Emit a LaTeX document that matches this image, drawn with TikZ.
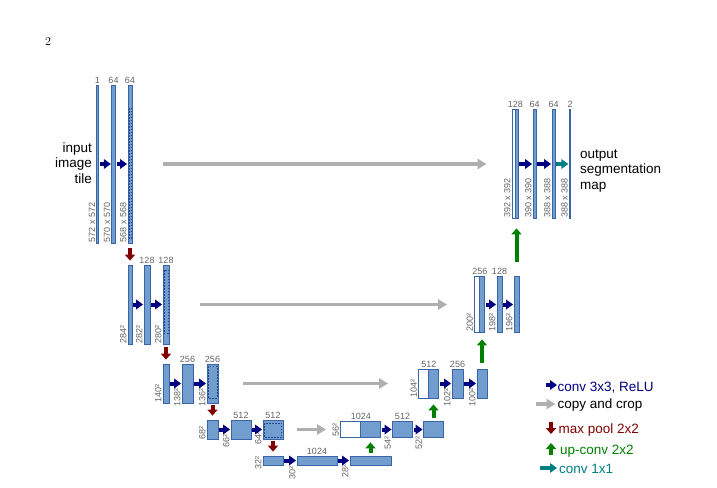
\documentclass[tikz,border=0pt]{standalone}
\usepackage{fontspec}
\setsansfont{Liberation Sans}
\usetikzlibrary{arrows.meta}

\definecolor{barfill}{RGB}{114,158,207}
\definecolor{barline}{RGB}{58,100,168}
\definecolor{cropcol}{RGB}{40,70,140}
\definecolor{dimcol}{RGB}{100,100,100}
\definecolor{convcol}{RGB}{0,0,128}
\definecolor{copycol}{RGB}{175,175,175}
\definecolor{poolcol}{RGB}{128,0,0}
\definecolor{upcol}{RGB}{0,128,0}
\definecolor{finalcol}{RGB}{0,128,128}

\begin{document}
\begin{tikzpicture}[x = 1pt, y = -1pt,
	bar/.style 2 args = {draw = barline, fill = barfill, line width = 0.8pt, inner sep = 0pt, minimum width = #1pt, minimum height = #2pt},
	blank/.style = {fill = white},
	cropline/.style = {draw = cropcol, line width = 0.6pt, dash pattern = on 1.5pt off 1.5pt},
	chan/.style = {anchor = south, inner sep = 1pt, text = dimcol, font = \sffamily\fontsize{9}{10}\selectfont},
	dim/.style = {rotate = 90, anchor = south west, inner sep = 1pt, text = dimcol, font = \sffamily\fontsize{9}{10}\selectfont},
	big/.style = {inner sep = 0pt, font = \sffamily\fontsize{13.5}{15.5}\selectfont},
	legend/.style = {big, anchor = base west},
	convarrow/.style = {draw = convcol, line width = 4pt, -{Triangle[length = 7pt, width = 9.5pt]}, shorten < = 1pt, shorten > = 0.5pt},
	copyarrow/.style = {draw = copycol, line width = 3.5pt, -{Triangle[length = 9pt, width = 10pt]}},
	poolarrow/.style = {draw = poolcol, line width = 4pt, -{Triangle[length = 6pt, width = 10pt]}, shorten < = 3pt, shorten > = 4pt},
	uparrow/.style = {draw = upcol, line width = 4pt, -{Triangle[length = 6pt, width = 10pt]}},
	finalarrow/.style = {convarrow, draw = finalcol}]

	\useasboundingbox (0, 0) rectangle (717, 487);

	\node [font = \fontsize{12}{14}\selectfont] (page) at (48, 42) {2};

	% Contracting path
	
	\node [bar = {1.5}{158}] (d1a) at (97.5, 164) {};
	\node [bar = {3.5}{158}] (d1b) at (113.5, 164) {};
	\node [bar = {4}{158}] (d1c) at (130, 164) {};
	
	\node [bar = {4}{79}] (d2a) at (130, 304.5) {};
	\node [bar = {6}{79}] (d2b) at (147, 304.5) {};
	\node [bar = {6}{79}] (d2c) at (166, 304.5) {};
	
	\node [bar = {6}{39}] (d3a) at (166, 383.5) {};
	\node [bar = {11}{39}] (d3b) at (187.5, 383.5) {};
	\node [bar = {11}{39}] (d3c) at (212.5, 383.5) {};
	
	\node [bar = {11}{19}] (d4a) at (212.5, 429.5) {};
	\node [bar = {20}{19}] (d4b) at (241, 429.5) {};
	\node [bar = {20}{19}] (d4c) at (273, 429.5) {};
	
	\node [bar = {20}{9}] (b5a) at (273, 460.5) {};
	\node [bar = {40}{9}] (b5b) at (317, 460.5) {};
	\node [bar = {41}{9}] (b5c) at (370.5, 460.5) {};
	
	% Crop regions
	
	\draw [cropline] (128.8, 108) rectangle (131.2, 238);
	\draw [cropline] (163.8, 270) rectangle (168.2, 333);
	\draw [cropline] (208.2, 366) rectangle (216.8, 398);
	\draw [cropline] (264.5, 423) rectangle (281.5, 437.5);
	
	% Expansive path
	
	\node [bar = {20}{16}, blank] (u4w) at (350.5, 429.5) {};
	\node [bar = {20}{16}] (u4a) at (370.5, 429.5) {};
	\node [bar = {20}{16}] (u4b) at (402.5, 429.5) {};
	\node [bar = {20}{16}] (u4c) at (433.5, 429.5) {};
	
	\node [bar = {10}{29}, blank] (u3w) at (423.5, 383.5) {};
	\node [bar = {10}{29}] (u3a) at (433.5, 383.5) {};
	\node [bar = {11}{29}] (u3b) at (457.5, 383.5) {};
	\node [bar = {10}{29}] (u3c) at (482, 383.5) {};
	
	\node [bar = {5}{56}, blank] (u2w) at (477, 304.5) {};
	\node [bar = {5}{56}] (u2a) at (482, 304.5) {};
	\node [bar = {5}{56}] (u2b) at (499.5, 304.5) {};
	\node [bar = {5}{56}] (u2c) at (516.5, 304.5) {};
	
	\node [bar = {3}{109}, blank] (u1w) at (513.5, 164) {};
	\node [bar = {3}{109}] (u1a) at (516.5, 164) {};
	\node [bar = {3}{109}] (u1b) at (534.5, 164) {};
	\node [bar = {3}{109}] (u1c) at (553.5, 164) {};
	\node [bar = {1.5}{109}] (u1d) at (570, 164) {};
	
	% Channel numbers
	
	\node [chan] (c1a) at (d1a.north) {1};
	\node [chan] (c1b) at (d1b.north) {64};
	\node [chan] (c1c) at (d1c.north) {64};
	\node [chan] (c2b) at (d2b.north) {128};
	\node [chan] (c2c) at (d2c.north) {128};
	\node [chan] (c3b) at (d3b.north) {256};
	\node [chan] (c3c) at (d3c.north) {256};
	\node [chan] (c4b) at (d4b.north) {512};
	\node [chan] (c4c) at (d4c.north) {512};
	\node [chan] (c5b) at (b5b.north) {1024};
	\node [chan] (e4w) at (u4w.north east) {1024};
	\node [chan] (e4b) at (u4b.north) {512};
	\node [chan] (e3w) at (u3w.north east) {512};
	\node [chan] (e3b) at (u3b.north) {256};
	\node [chan] (e2w) at (u2w.north east) {256};
	\node [chan] (e2b) at (u2b.north) {128};
	\node [chan] (e1w) at (u1w.north east) {128};
	\node [chan] (e1b) at (u1b.north) {64};
	\node [chan] (e1c) at (u1c.north) {64};
	\node [chan] (e1d) at (u1d.north) {2};
	
	% Image sizes
	
	\node [dim] (s1a) at (d1a.south west) {572 x 572};
	\node [dim] (s1b) at (d1b.south west) {570 x 570};
	\node [dim] (s1c) at (d1c.south west) {568 x 568};
	\node [dim] (s2a) at (d2a.south west) {284²};
	\node [dim] (s2b) at (d2b.south west) {282²};
	\node [dim] (s2c) at (d2c.south west) {280²};
	\node [dim] (s3a) at (d3a.south west) {140²};
	\node [dim] (s3b) at ([yshift = -4pt] d3b.south west) {138²};
	\node [dim] (s3c) at ([yshift = -4pt] d3c.south west) {136²};
	\node [dim] (s4a) at ([yshift = -1pt] d4a.south west) {68²};
	\node [dim] (s4b) at ([yshift = -9pt] d4b.south west) {66²};
	\node [dim] (s4c) at ([yshift = -6pt] d4c.south west) {64²};
	\node [dim] (s5a) at ([yshift = -5pt] b5a.south west) {32²};
	\node [dim] (s5b) at ([yshift = -15pt] b5b.south west) {30²};
	\node [dim] (s5c) at ([yshift = -13pt] b5c.south west) {28²};
	\node [dim] (t4w) at (u4w.south west) {56²};
	\node [dim] (t4b) at ([yshift = -13pt] u4b.south west) {54²};
	\node [dim] (t4c) at ([yshift = -13pt] u4c.south west) {52²};
	\node [dim] (t3w) at (u3w.south west) {104²};
	\node [dim] (t3b) at ([yshift = -9pt] u3b.south west) {102²};
	\node [dim] (t3c) at ([yshift = -9pt] u3c.south west) {100²};
	\node [dim] (t2w) at (u2w.south west) {200²};
	\node [dim] (t2b) at (u2b.south west) {198²};
	\node [dim] (t2c) at (u2c.south west) {196²};
	\node [dim] (t1w) at (u1w.south west) {392 x 392};
	\node [dim] (t1b) at (u1b.south west) {390 x 390};
	\node [dim] (t1c) at (u1c.south west) {388 x 388};
	\node [dim] (t1d) at (u1d.south west) {388 x 388};
	
	% Input and output
	
	\node [big, anchor = east, align = right] (input) at (92, 163) {input\\image\\tile};
	\node [big, anchor = west, align = left] (output) at (580, 171) {output\\segmentation\\map};
	
	% Convolutions
	
	\begin{scope}[convarrow]
	
		\draw (d1a) -- (d1b);
		\draw (d1b) -- (d1c);
		\draw (d2a) -- (d2b);
		\draw (d2b) -- (d2c);
		\draw (d3a) -- (d3b);
		\draw (d3b) -- (d3c);
		\draw (d4a) -- (d4b);
		\draw (d4b) -- (d4c);
		\draw (b5a) -- (b5b);
		\draw (b5b) -- (b5c);
		\draw (u4a) -- (u4b);
		\draw (u4b) -- (u4c);
		\draw (u3a) -- (u3b);
		\draw (u3b) -- (u3c);
		\draw (u2a) -- (u2b);
		\draw (u2b) -- (u2c);
		\draw (u1a) -- (u1b);
		\draw (u1b) -- (u1c);
	
	\end{scope}
	
	\draw [finalarrow] (u1c) -- (u1d);
	
	% Copy and crop
	
	\draw [copyarrow, shorten < = 31pt, shorten > = 25pt] (d1c) -- (u1w);
	\draw [copyarrow, shorten < = 31pt, shorten > = 27pt] (d2c) -- (u2w);
	\draw [copyarrow, shorten < = 25pt, shorten > = 30pt] (d3c) -- (u3w);
	\draw [copyarrow, shorten < = 14pt, shorten > = 14pt] (d4c) -- (u4w);
	
	% Max pooling
	
	\draw [poolarrow, shorten < = 5pt, shorten > = 4pt] (d1c) -- (d2a);
	\draw [poolarrow] (d2c) -- (d3a);
	\draw [poolarrow, shorten < = 2pt] (d3c) -- (d4a);
	\draw [poolarrow, shorten < = 2pt] (d4c) -- (b5a);
	
	% Up-convolutions
	
	\draw [uparrow, shorten < = 3pt, shorten > = 4.5pt] (b5c) -- (u4a);
	\draw [uparrow, shorten < = 3.5pt, shorten > = 6pt] (u4c) -- (u3a);
	\draw [uparrow, shorten < = 6pt, shorten > = 6.5pt] (u3c) -- (u2a);
	\draw [uparrow, shorten < = 14.5pt, shorten > = 9.5pt] (u2c) -- (u1a);
	
	% Legend
	
	\node [legend, text = convcol] (lconv) at (557.5, 391) {conv 3x3, ReLU};
	\node [legend] (lcopy) at (557.5, 408) {copy and crop};
	\node [legend, text = poolcol] (lpool) at (558.5, 433) {max pool 2x2};
	\node [legend, text = upcol] (lup) at (560, 454) {up-conv 2x2};
	\node [legend, text = finalcol] (lfinal) at (559, 473) {conv 1x1};
	
	\coordinate (lconvs) at (546, 385);
	\coordinate (lcopys) at (536, 404);
	\coordinate (lpools) at (551, 422);
	\coordinate (lpoole) at (551, 434);
	\coordinate (lups) at (551, 455);
	\coordinate (lupe) at (551, 443);
	\coordinate (lfinals) at (540, 468);
	
	\draw [convarrow, shorten < = 0pt] (lconvs) -- (lconvs -| lconv.west);
	\draw [copyarrow, shorten > = 2pt] (lcopys) -- (lcopys -| lcopy.west);
	\draw [poolarrow, shorten < = 0pt, shorten > = 0pt] (lpools) -- (lpoole);
	\draw [uparrow] (lups) -- (lupe);
	\draw [finalarrow, shorten < = 0pt, shorten > = 2pt] (lfinals) -- (lfinals -| lfinal.west);
	
\end{tikzpicture}
\end{document}
